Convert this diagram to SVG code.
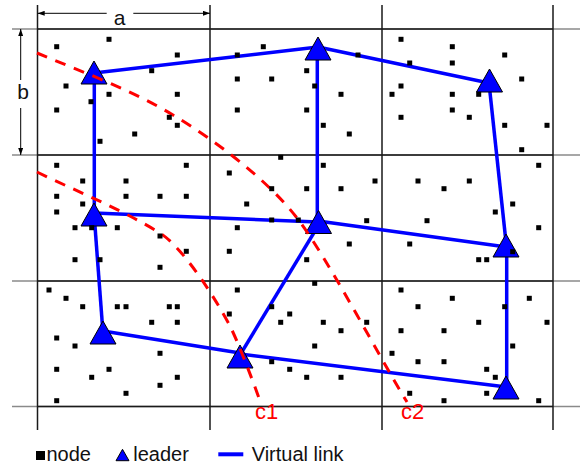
<svg xmlns="http://www.w3.org/2000/svg" xmlns:xlink="http://www.w3.org/1999/xlink" width="582" height="468" viewBox="0 0 582 468">
<style>
.grid{stroke:#1a1a1a;stroke-width:1.5;fill:none}
.gext{stroke:#8a8a8a;stroke-width:1.5;fill:none}
.dim{stroke:#000;stroke-width:1;fill:none}
.link{stroke:#0000ff;stroke-width:3.5;fill:none;stroke-linecap:butt}
.curve{stroke:#ff0000;stroke-width:3;fill:none;stroke-dasharray:11 9}
.lbl{font-family:"Liberation Sans",Arial,sans-serif;font-size:20px;fill:#111}
.big{font-size:21px}
.red{fill:#ff0000;font-size:22px}
.leader{fill:#0000ff;stroke:#000;stroke-width:1}
</style>
<defs>
<marker id="arr" viewBox="0 0 7 5" refX="7" refY="2.5" markerWidth="7" markerHeight="5" markerUnits="userSpaceOnUse" orient="auto"><path d="M0,0 L7,2.5 L0,5 Z" fill="#000"/></marker>
<path id="tri" d="M0,0 L13,23 L-13,23 Z"/>
<rect id="sq" x="-2.5" y="-2.5" width="5" height="5" fill="#000"/>
</defs>
<rect width="582" height="468" fill="#fff"/>
<g id="grid">
<path class="gext" d="M12,29H580M12,155H580M12,281H580M12,406.5H580"/>
<path class="grid" d="M37,29H553M37,155H553M37,281H553M37,406.5H553"/>
<path class="grid" d="M37.5,5V430M210,5V430M382,5V430M553,5V430"/>
</g>
<g id="dimensions">
<line class="dim" x1="106.7" y1="13.3" x2="37.7" y2="13.3" marker-end="url(#arr)"/>
<line class="dim" x1="133.3" y1="13.3" x2="210" y2="13.3" marker-end="url(#arr)"/>
<line class="dim" x1="20.7" y1="80" x2="20.7" y2="29" marker-end="url(#arr)"/>
<line class="dim" x1="20.7" y1="108" x2="20.7" y2="155" marker-end="url(#arr)"/>
<text class="lbl big" x="119.5" y="25" text-anchor="middle">a</text>
<text class="lbl big" x="23" y="98.5" text-anchor="middle">b</text>
</g>
<g id="links">
<line class="link" x1="94" y1="73" x2="318" y2="47"/>
<line class="link" x1="318" y1="47" x2="489" y2="83"/>
<line class="link" x1="94.3" y1="73" x2="94.3" y2="213"/>
<line class="link" x1="317.3" y1="47" x2="317.3" y2="222"/>
<line class="link" x1="489" y1="83" x2="506.5" y2="247"/>
<line class="link" x1="94" y1="213" x2="318" y2="222"/>
<line class="link" x1="318" y1="221" x2="506.5" y2="247"/>
<line class="link" x1="94" y1="213" x2="103" y2="333"/>
<line class="link" x1="318" y1="226" x2="240" y2="355"/>
<line class="link" x1="103" y1="331" x2="240" y2="353"/>
<line class="link" x1="240" y1="354" x2="506.5" y2="387"/>
<line class="link" x1="506.7" y1="247" x2="506.7" y2="387"/>
</g>
<g id="leader-1"><use href="#tri" class="leader" x="94" y="61"/></g>
<g id="leader-2"><use href="#tri" class="leader" x="318" y="37"/></g>
<g id="leader-3"><use href="#tri" class="leader" x="489.5" y="69"/></g>
<g id="leader-4"><use href="#tri" class="leader" x="94" y="203"/></g>
<g id="leader-5"><use href="#tri" class="leader" x="318.5" y="210.5"/></g>
<g id="leader-6"><use href="#tri" class="leader" x="506" y="234"/></g>
<g id="leader-7"><use href="#tri" class="leader" x="103" y="321"/></g>
<g id="leader-8"><use href="#tri" class="leader" x="240" y="345"/></g>
<g id="leader-9"><use href="#tri" class="leader" x="506" y="376"/></g>
<g id="curves">
<path class="curve" d="M37,53 C82,72 130,89 173,115 C213,139 267,179 297,218 C327,257 377,353 407,402"/>
<path class="curve" d="M37,172 C78,192 119,208 160,233 C182,247 213,294 230,326 C238,342 251,376 259,398"/>
<text class="lbl red" x="255" y="418.5">c1</text>
<text class="lbl red" x="401" y="418.5">c2</text>
</g>
<g id="sensor-nodes">
<use href="#sq" x="56.7" y="46.7"/><use href="#sq" x="109" y="39.3"/><use href="#sq" x="177.3" y="55"/><use href="#sq" x="237.3" y="55"/><use href="#sq" x="263.3" y="46.7"/><use href="#sq" x="151.7" y="70.7"/><use href="#sq" x="66" y="86"/><use href="#sq" x="109" y="94.3"/><use href="#sq" x="177.3" y="94.3"/><use href="#sq" x="237.3" y="79"/><use href="#sq" x="271.7" y="79"/><use href="#sq" x="91" y="101.7"/><use href="#sq" x="56.7" y="110"/><use href="#sq" x="237.3" y="110"/><use href="#sq" x="169.3" y="117.3"/><use href="#sq" x="177.3" y="125.3"/><use href="#sq" x="134.7" y="134"/><use href="#sq" x="100" y="141.3"/>
<use href="#sq" x="401" y="39.3"/><use href="#sq" x="452.3" y="46.7"/><use href="#sq" x="504.7" y="55"/><use href="#sq" x="358" y="55"/><use href="#sq" x="409.7" y="63"/><use href="#sq" x="452.3" y="63"/><use href="#sq" x="306.7" y="70.7"/><use href="#sq" x="521.7" y="79"/><use href="#sq" x="314.7" y="86"/><use href="#sq" x="401" y="86"/><use href="#sq" x="341" y="94.3"/><use href="#sq" x="392" y="94.3"/><use href="#sq" x="452.3" y="94.3"/><use href="#sq" x="478.7" y="94.3"/><use href="#sq" x="306.7" y="110"/><use href="#sq" x="452.3" y="110"/><use href="#sq" x="401" y="117.3"/><use href="#sq" x="469.3" y="117.3"/><use href="#sq" x="323.3" y="125.3"/><use href="#sq" x="504.7" y="125.3"/><use href="#sq" x="547" y="125.3"/><use href="#sq" x="349.3" y="134"/><use href="#sq" x="521.7" y="149.7"/>
<use href="#sq" x="280.7" y="157.3"/><use href="#sq" x="56.7" y="165.3"/><use href="#sq" x="186.3" y="165.3"/><use href="#sq" x="229.3" y="173"/><use href="#sq" x="82.7" y="181"/><use href="#sq" x="126" y="181"/><use href="#sq" x="56.7" y="196.3"/><use href="#sq" x="126" y="196.3"/><use href="#sq" x="160" y="196.3"/><use href="#sq" x="186.3" y="196.3"/><use href="#sq" x="271.7" y="188.7"/><use href="#sq" x="82.7" y="204"/><use href="#sq" x="246.7" y="204"/><use href="#sq" x="56.7" y="212"/><use href="#sq" x="271.7" y="220"/><use href="#sq" x="75" y="227.7"/><use href="#sq" x="91.7" y="227.7"/><use href="#sq" x="117.3" y="227.7"/><use href="#sq" x="237.3" y="227.7"/><use href="#sq" x="160" y="236"/><use href="#sq" x="186.3" y="251.3"/><use href="#sq" x="229.3" y="251.3"/><use href="#sq" x="75" y="259.7"/><use href="#sq" x="100" y="259.7"/><use href="#sq" x="160" y="267.3"/>
<use href="#sq" x="323.3" y="165.3"/><use href="#sq" x="538.7" y="165.3"/><use href="#sq" x="375" y="181"/><use href="#sq" x="418" y="181"/><use href="#sq" x="469.3" y="181"/><use href="#sq" x="306.7" y="188.7"/><use href="#sq" x="341" y="188.7"/><use href="#sq" x="444" y="188.7"/><use href="#sq" x="512.7" y="204"/><use href="#sq" x="495.3" y="212"/><use href="#sq" x="298.3" y="220"/><use href="#sq" x="366.7" y="220.7"/><use href="#sq" x="427" y="220.7"/><use href="#sq" x="538.7" y="227.7"/><use href="#sq" x="349.3" y="244"/><use href="#sq" x="409.7" y="244"/><use href="#sq" x="306.7" y="259.7"/><use href="#sq" x="478.7" y="259.7"/><use href="#sq" x="486.7" y="259.7"/><use href="#sq" x="512.7" y="251.7"/>
<use href="#sq" x="49" y="290"/><use href="#sq" x="237.3" y="290"/><use href="#sq" x="314.7" y="283.3"/><use href="#sq" x="401" y="290"/><use href="#sq" x="66" y="298.3"/><use href="#sq" x="82.7" y="306.7"/><use href="#sq" x="117.3" y="306.7"/><use href="#sq" x="126" y="306.7"/><use href="#sq" x="169.3" y="306.7"/><use href="#sq" x="177.3" y="306.7"/><use href="#sq" x="271.7" y="306.7"/><use href="#sq" x="229.3" y="314"/><use href="#sq" x="289.7" y="314"/><use href="#sq" x="151.7" y="322.3"/><use href="#sq" x="177.3" y="322.3"/><use href="#sq" x="280.7" y="322.3"/><use href="#sq" x="56.7" y="338"/><use href="#sq" x="75" y="346"/><use href="#sq" x="160" y="353.3"/><use href="#sq" x="271.7" y="361.7"/><use href="#sq" x="289.7" y="369.3"/><use href="#sq" x="56.7" y="369.3"/><use href="#sq" x="109" y="369.3"/><use href="#sq" x="91.7" y="377.3"/><use href="#sq" x="177.3" y="377.3"/><use href="#sq" x="160" y="385.3"/><use href="#sq" x="126" y="393.3"/><use href="#sq" x="56.7" y="400.7"/>
<use href="#sq" x="452.3" y="298.3"/><use href="#sq" x="529.3" y="298.3"/><use href="#sq" x="418" y="306.7"/><use href="#sq" x="504.7" y="306.7"/><use href="#sq" x="323.3" y="322.3"/><use href="#sq" x="366.7" y="322.3"/><use href="#sq" x="478.7" y="322.3"/><use href="#sq" x="547" y="322.3"/><use href="#sq" x="341" y="330.7"/><use href="#sq" x="401" y="330.7"/><use href="#sq" x="444" y="330.7"/><use href="#sq" x="314.7" y="346"/><use href="#sq" x="512.7" y="346"/><use href="#sq" x="392" y="353.3"/><use href="#sq" x="418" y="361.7"/><use href="#sq" x="444" y="361.7"/><use href="#sq" x="486.7" y="369.3"/><use href="#sq" x="306.7" y="377.3"/><use href="#sq" x="341" y="377.3"/><use href="#sq" x="495.3" y="377.3"/><use href="#sq" x="409.7" y="393.3"/><use href="#sq" x="486.7" y="393.3"/><use href="#sq" x="444" y="400.7"/><use href="#sq" x="538.7" y="400.7"/>
</g>
<g id="legend">
<rect x="36" y="451" width="9" height="9" fill="#000"/>
<text class="lbl" x="46.5" y="461">node</text>
<path class="leader" d="M122.5,449.3 L129,460.7 L116,460.7 Z"/>
<text class="lbl" x="133.3" y="461">leader</text>
<line class="link" x1="218.3" y1="454.3" x2="243.3" y2="454.3" style="stroke-width:4"/>
<text class="lbl" x="251.7" y="461">Virtual link</text>
</g>
</svg>
